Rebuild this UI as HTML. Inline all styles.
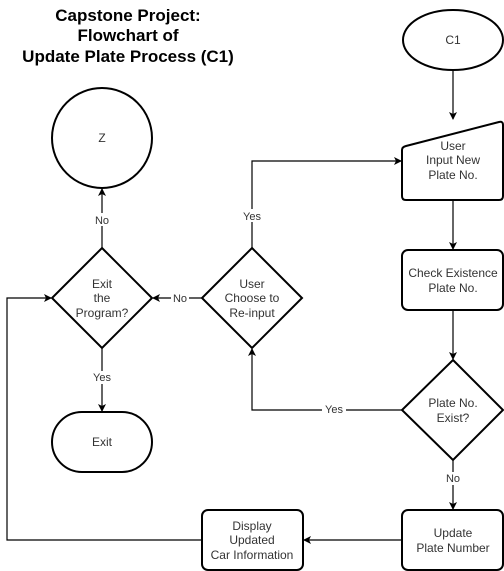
<!DOCTYPE html>
<html><head><style>body{margin:0;background:#fff}svg{display:block}</style></head><body>
<svg width="504" height="571" xmlns="http://www.w3.org/2000/svg" font-family="Liberation Sans, sans-serif">
<defs><marker id="a" markerWidth="8" markerHeight="8" refX="7" refY="4" orient="auto" markerUnits="userSpaceOnUse"><path d="M0,0 L8,4 L0,8 L2,4z" fill="#000"/></marker></defs>
<g font-weight="bold" font-size="17" text-anchor="middle" fill="#000">
<text x="128" y="21">Capstone Project:</text>
<text x="128" y="41">Flowchart of</text>
<text x="128" y="62">Update Plate Process (C1)</text>
</g>
<g fill="#fff" stroke="#000" stroke-width="2">
<ellipse cx="453" cy="40" rx="50" ry="30"/>
<path d="M406,146 L499,122 Q503,121 503,125 L503,196 Q503,200 499,200 L406,200 Q402,200 402,196 L402,150 Q402,147 406,146Z"/>
<rect x="402" y="250" width="101" height="60" rx="6"/>
<polygon points="453,360 503,410 453,460 402,410"/>
<rect x="402" y="510" width="101" height="60" rx="6"/>
<rect x="202" y="510" width="101" height="60" rx="6"/>
<polygon points="102,248 152,298 102,348 52,298"/>
<polygon points="252,248 302,298 252,348 202,298"/>
<circle cx="102" cy="138" r="50"/>
<rect x="52" y="412" width="100" height="60" rx="30"/>
</g>
<g fill="none" stroke="#000" stroke-width="1.2" marker-end="url(#a)">
<path d="M453,70 V119"/>
<path d="M453,200 V249"/>
<path d="M453,310 V359"/>
<path d="M453,460 V509"/>
<path d="M402,540 H304"/>
<path d="M202,540 H7 V298 H51"/>
<path d="M202,298 H153"/>
<path d="M252,248 V161 H401"/>
<path d="M102,248 V189"/>
<path d="M102,348 V411"/>
<path d="M402,410 H252 V349"/>
</g>
<g font-size="12" text-anchor="middle" fill="#333">
<text x="453" y="44">C1</text>
<text x="453" y="150">User</text><text x="453" y="164">Input New</text><text x="453" y="179">Plate No.</text>
<text x="453" y="277">Check Existence</text><text x="453" y="292">Plate No.</text>
<text x="453" y="407">Plate No.</text><text x="453" y="422">Exist?</text>
<text x="453" y="537">Update</text><text x="453" y="552">Plate Number</text>
<text x="252" y="530">Display</text><text x="252" y="544">Updated</text><text x="252" y="559">Car Information</text>
<text x="102" y="288">Exit</text><text x="102" y="302">the</text><text x="102" y="317">Program?</text>
<text x="252" y="288">User</text><text x="252" y="302">Choose to</text><text x="252" y="317">Re-input</text>
<text x="102" y="142">Z</text>
<text x="102" y="446">Exit</text>
</g>
<g font-size="11" text-anchor="middle" fill="#333">
<rect x="92" y="213" width="20" height="13" fill="#fff"/><text x="102" y="224">No</text>
<rect x="89" y="371" width="26" height="13" fill="#fff"/><text x="102" y="381">Yes</text>
<rect x="239" y="209" width="26" height="13" fill="#fff"/><text x="252" y="220">Yes</text>
<rect x="171" y="292" width="18" height="13" fill="#fff"/><text x="180" y="302">No</text>
<rect x="322" y="404" width="24" height="13" fill="#fff"/><text x="334" y="413">Yes</text>
<rect x="444" y="472" width="20" height="13" fill="#fff"/><text x="453" y="482">No</text>
</g>
</svg>
</body></html>
